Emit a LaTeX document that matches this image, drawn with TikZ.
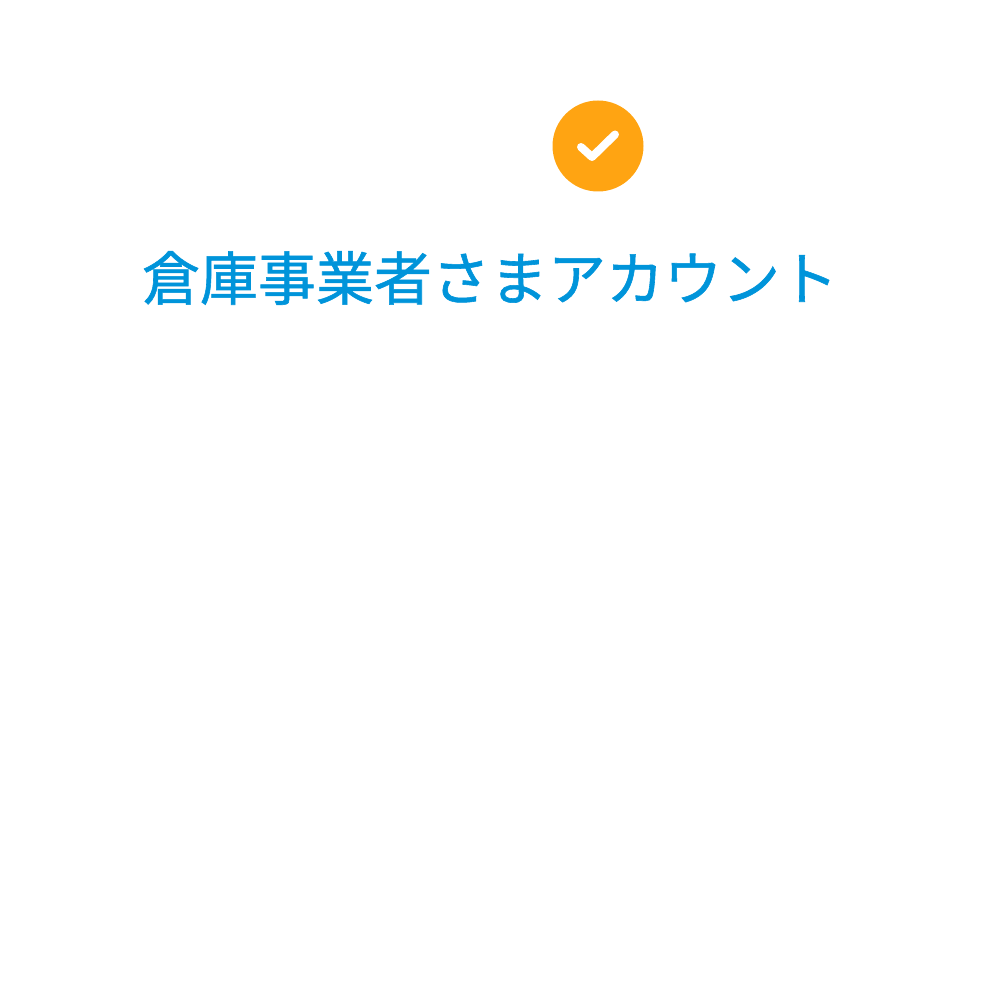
\documentclass[tikz,border=0pt]{standalone}
\usepackage{fontspec}
\newfontfamily\cjk[FakeBold=1]{Noto Sans CJK JP}
\definecolor{badgeorange}{HTML}{FFA412}
\definecolor{titleblue}{HTML}{0094DA}
\begin{document}
\begin{tikzpicture}[x=1pt,y=-1pt]

        \useasboundingbox (0,0) rectangle (984,1000);

        \begin{scope}[every node/.style={circle,fill=badgeorange,minimum size=91pt,inner sep=0pt}]
          \node (badge) at (598,146) {};
        \end{scope}

        \coordinate (c1) at (581,147);
        \coordinate (c2) at (592,157);
        \coordinate (c3) at (615,134.5);
        \draw[white,line width=8pt,line cap=round,line join=round] (c1) -- (c2) -- (c3);

        \node[text=titleblue,inner sep=0pt,anchor=center] (title) at (490,278)
          {\cjk\fontsize{58}{58}\selectfont 倉庫事業者さまアカウント};

      \end{tikzpicture}
\end{document}
